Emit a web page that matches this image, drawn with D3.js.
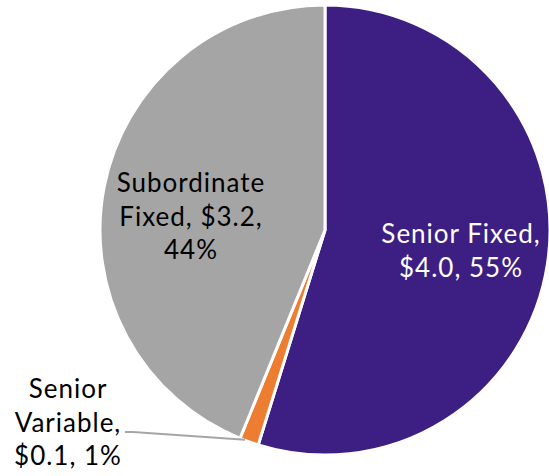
<!DOCTYPE html>
<html>
<head>
<meta charset="utf-8">
<script src="https://cdn.jsdelivr.net/npm/d3@7"></script>
<style>
  html, body { margin: 0; padding: 0; background: #fff; }
  svg { display: block; }
  text { font-family: Lato, "Open Sans", sans-serif; }
</style>
</head>
<body>
<svg id="chart" width="549" height="476"></svg>
<script>
const categories = ["Senior Fixed", "Senior Variable", "Subordinate Fixed"];
const values = [4.0, 0.1, 3.2];
const percentLabels = ["55%", "1%", "44%"];
const colors = ["#3D1E82", "#ED7D31", "#A5A5A5"];

const svg = d3.select("#chart");
const cx = 325, cy = 230, R = 225;

const data = categories.map((c, i) => ({ name: c, value: values[i], pct: percentLabels[i], color: colors[i] }));

const pie = d3.pie().value(d => d.value).sort(null).startAngle(0).endAngle(2 * Math.PI);
const arc = d3.arc().innerRadius(0).outerRadius(R);

const g = svg.append("g").attr("transform", `translate(${cx},${cy})`);
const arcs = pie(data);

g.selectAll("path")
  .data(arcs)
  .join("path")
  .attr("d", arc)
  .attr("fill", d => d.data.color)
  .attr("stroke", "#fff")
  .attr("stroke-width", 3)
  .attr("stroke-linejoin", "miter");

const fmt = d => `$${d.value.toFixed(1)}`;
const labelLayout = [
  { lines: d => [`${d.name},`, `${fmt(d)}, ${d.pct}`], x: 461, y: 233, fill: "#fff" },
  { lines: d => ["Senior", "Variable,", `${fmt(d)}, ${d.pct}`], x: 68, y: 388, fill: "#000" },
  { lines: d => ["Subordinate", `Fixed, ${fmt(d)},`, d.pct], x: 191, y: 182, fill: "#000" }
];
const lineH = 33.5;

// leader line for Senior Variable
const sv = arcs[1];
const mid = (sv.startAngle + sv.endAngle) / 2;
const pOuter = [cx + Math.sin(mid) * R, cy - Math.cos(mid) * R];
svg.append("polyline")
  .attr("points", `125,432 133,432 ${pOuter[0] - 4},${pOuter[1] - 2}`)
  .attr("fill", "none")
  .attr("stroke", "#A5A5A5")
  .attr("stroke-width", 2);

arcs.forEach((a, i) => {
  const L = labelLayout[i];
  const t = svg.append("text")
    .attr("text-anchor", "middle")
    .attr("font-size", 26)
    .attr("letter-spacing", 1)
    .attr("fill", L.fill);
  L.lines(a.data).forEach((ln, j) => {
    t.append("tspan")
      .attr("x", L.x)
      .attr("y", L.y + j * lineH)
      .attr("dominant-baseline", "central")
      .text(ln);
  });
});
</script>
</body>
</html>
